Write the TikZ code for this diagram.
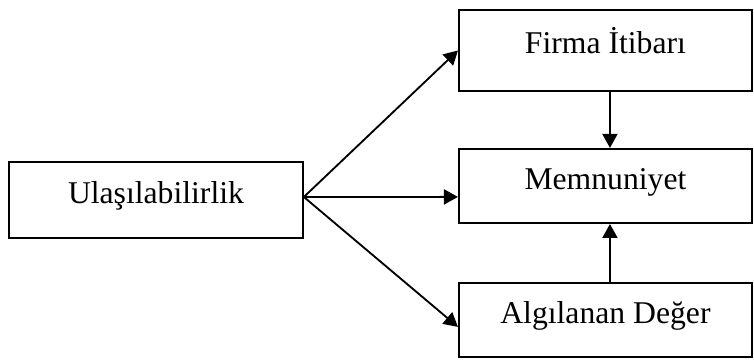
\documentclass[tikz,border=0pt]{standalone}
\usepackage{fontspec}
\setmainfont{Liberation Serif}
\usetikzlibrary{arrows.meta}

\begin{document}
\begin{tikzpicture}[
    box/.style={draw, line width=0.8pt, minimum width=3.9cm, inner ysep=0pt,
        text height=4pt, text depth=1.4pt, font=\fontsize{12}{14}\selectfont},
    link/.style={line width=0.7pt, -{Triangle[length=5.3pt, width=5.7pt]}}
]

    % Frame of the picture
    \useasboundingbox (0,0) rectangle (10.04,-4.79);

    % 1. The boxes
    \node[box, minimum width=3.91cm, minimum height=1.01cm] (ulas) at (2.077,-2.663) {Ulaşılabilirlik};
    \node[box, minimum height=1.08cm] (firma) at (8.062,-0.672) {Firma İtibarı};
    \node[box, minimum height=0.985cm] (memnun) at (8.062,-2.476) {Memnuniyet};
    \node[box, minimum height=0.985cm] (algi) at (8.062,-4.26) {Algılanan Değer};

    % 2. Arrows out of the left box
    \coordinate (src) at ([yshift=0.04cm]ulas.east);
    \draw[link] (src) -- (firma.west);
    \draw[link] (src) -- ([yshift=-0.146cm]memnun.west);
    \draw[link] (src) -- ([yshift=-0.093cm]algi.west);

    % 3. Vertical arrows into the middle box
    \draw[link] ([xshift=0.06cm]firma.south) -- ([xshift=0.06cm]memnun.north);
    \draw[link] ([xshift=0.06cm]algi.north) -- ([xshift=0.06cm]memnun.south);
\end{tikzpicture}
\end{document}
